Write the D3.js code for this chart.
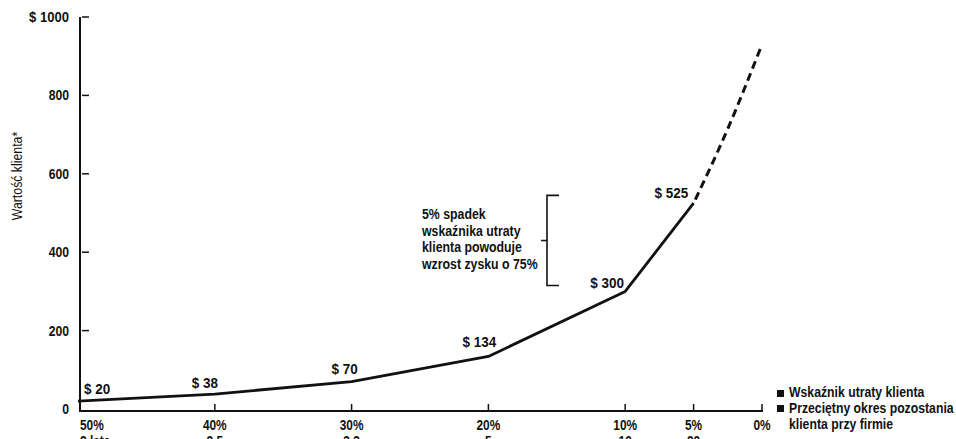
<!DOCTYPE html>
<html>
<head>
<meta charset="utf-8">
<script src="https://cdn.jsdelivr.net/npm/d3@7"></script>
<style>
  body { margin: 0; background: #fff; }
  text { font-family: 'Liberation Sans', Arial, sans-serif; fill: #111; }
</style>
</head>
<body>
<script>
const width = 956;
const height = 439;

// data
const churnRates = [50, 40, 30, 20, 10, 5, 0];
const churnLabels = ['50%', '40%', '30%', '20%', '10%', '5%', '0%'];
const tenureLabels = ['2 lata', '2.5', '3.3', '5', '10', '20', ''];
const pointRates = [50, 40, 30, 20, 10, 5];
const pointValues = [20, 38, 70, 134, 300, 525];
const pointLabels = ['$ 20', '$ 38', '$ 70', '$ 134', '$ 300', '$ 525'];
const projRates = [5, 2.5, 0];
const projValues = [525, 715, 930];
const yTicks = [0, 200, 400, 600, 800, 1000];
const yTickLabels = ['0', '200', '400', '600', '800', '$ 1000'];
const noteLines = ['5% spadek', 'wskaźnika utraty', 'klienta powoduje', 'wzrost zysku o 75%'];
const bracketRange = [315, 545];
const legendLines = ['Wskaźnik utraty klienta', 'Przeciętny okres pozostania', 'klienta przy firmie'];

const x = d3.scaleLinear().domain([50, 0]).range([78, 762]);
const y = d3.scaleLinear().domain([0, 1000]).range([409, 17]);

// condensed look: squeeze text horizontally
const place = (px, py, sx = 0.82) => `translate(${px},${py}) scale(${sx},1)`;

const svg = d3.select('body').append('svg')
  .attr('width', width)
  .attr('height', height);

// y axis
svg.append('line')
  .attr('x1', 80).attr('x2', 80)
  .attr('y1', y(1000)).attr('y2', 411)
  .attr('stroke', '#111').attr('stroke-width', 2);

svg.selectAll('.ytick')
  .data(yTicks.slice(1))
  .enter().append('line')
    .attr('x1', 82).attr('x2', 89)
    .attr('y1', d => y(d)).attr('y2', d => y(d))
    .attr('stroke', '#111').attr('stroke-width', 1.5);

svg.selectAll('.ylabel')
  .data(yTicks)
  .enter().append('g')
    .attr('transform', (d, i) => place(69, y(d) + 5, i === 5 ? 0.9 : 0.84))
  .append('text')
    .attr('text-anchor', 'end')
    .attr('font-size', 14.5)
    .attr('font-weight', 'bold')
    .text((d, i) => yTickLabels[i]);

svg.append('text')
  .attr('transform', 'translate(22, 176) rotate(-90) scale(0.88,1)')
  .attr('text-anchor', 'middle')
  .attr('font-size', 14)
  .text('Wartość klienta*');

// x axis
svg.append('line')
  .attr('x1', 79).attr('x2', 763)
  .attr('y1', 411).attr('y2', 411)
  .attr('stroke', '#111').attr('stroke-width', 2);

svg.selectAll('.xtick')
  .data(churnRates.slice(1))
  .enter().append('line')
    .attr('x1', d => x(d)).attr('x2', d => x(d))
    .attr('y1', 404).attr('y2', 410)
    .attr('stroke', '#111').attr('stroke-width', 1.5);

svg.selectAll('.xlabel')
  .data(churnRates)
  .enter().append('g')
    .attr('transform', (d, i) => place(i === 0 ? 80 : x(d), 430))
  .append('text')
    .attr('text-anchor', (d, i) => i === 0 ? 'start' : 'middle')
    .attr('font-size', 14.5)
    .attr('font-weight', 'bold')
    .text((d, i) => churnLabels[i]);

svg.selectAll('.tenure')
  .data(churnRates)
  .enter().append('g')
    .attr('transform', (d, i) => place(i === 0 ? 80 : x(d), 446))
  .append('text')
    .attr('text-anchor', (d, i) => i === 0 ? 'start' : 'middle')
    .attr('font-size', 14.5)
    .attr('font-weight', 'bold')
    .text((d, i) => tenureLabels[i]);

// curve
const line = d3.line()
  .x(d => x(d[0]))
  .y(d => y(d[1]))
  .curve(d3.curveLinear);

svg.append('path')
  .datum(pointRates.map((r, i) => [r, pointValues[i]]))
  .attr('d', line)
  .attr('fill', 'none')
  .attr('stroke', '#111')
  .attr('stroke-width', 2.8)
  .attr('stroke-linejoin', 'round');

svg.append('path')
  .datum(projRates.map((r, i) => [r, projValues[i]]))
  .attr('d', line.curve(d3.curveMonotoneX))
  .attr('fill', 'none')
  .attr('stroke', '#111')
  .attr('stroke-width', 3)
  .attr('stroke-dasharray', '8,5')
  .attr('stroke-dashoffset', -4);

// value labels
const labelDx = [6, -23, -20, -26, -35, -39];
const labelDy = [-7, -6, -8, -9, -3, -5];
svg.selectAll('.vlabel')
  .data(pointRates)
  .enter().append('g')
    .attr('transform', (d, i) => place(x(d) + labelDx[i], y(pointValues[i]) + labelDy[i], 0.9))
  .append('text')
    .attr('font-size', 15)
    .attr('font-weight', 'bold')
    .text((d, i) => pointLabels[i]);

// note with bracket
svg.selectAll('.note')
  .data(noteLines)
  .enter().append('g')
    .attr('transform', (d, i) => place(422, 219 + i * 16.7, 0.88))
  .append('text')
    .attr('font-size', 14)
    .attr('font-weight', 'bold')
    .text(d => d);

const bTop = y(bracketRange[1]);
const bBot = y(bracketRange[0]);
svg.append('path')
  .attr('d', `M559,${bTop}H547V${bBot}H559M547,${(bTop + bBot) / 2}H541`)
  .attr('fill', 'none')
  .attr('stroke', '#111')
  .attr('stroke-width', 1.6);

// legend
svg.selectAll('.lsq')
  .data([0, 1])
  .enter().append('rect')
    .attr('x', 777)
    .attr('y', d => 390 + d * 15)
    .attr('width', 7).attr('height', 7)
    .attr('fill', '#111');

svg.selectAll('.ltext')
  .data(legendLines)
  .enter().append('g')
    .attr('transform', (d, i) => place(789, 397 + i * 16, 0.875))
  .append('text')
    .attr('font-size', 14)
    .attr('font-weight', 'bold')
    .text(d => d);
</script>
</body>
</html>
